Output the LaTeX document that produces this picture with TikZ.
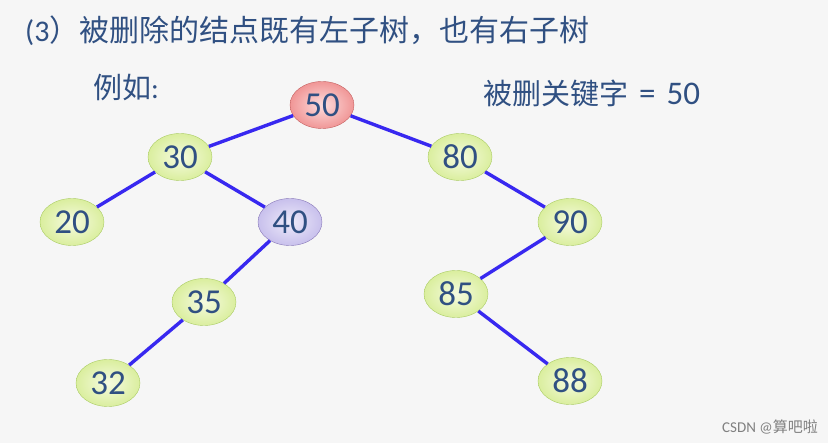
\documentclass[tikz,border=0pt]{standalone}
\usepackage{fontspec}
\setmainfont{Carlito}
\newfontfamily\cjk{Noto Sans CJK SC}
\usetikzlibrary{shapes,calc}
\definecolor{textblue}{RGB}{48,80,130}
\definecolor{edgeblue}{RGB}{56,40,240}
\definecolor{bg}{RGB}{246,246,246}
\definecolor{keyin}{RGB}{246,251,224}
\definecolor{keyout}{RGB}{218,238,158}
\definecolor{keyline}{RGB}{170,204,100}
\definecolor{delin}{RGB}{253,222,222}
\definecolor{delout}{RGB}{240,150,150}
\definecolor{delline}{RGB}{196,96,96}
\definecolor{sucin}{RGB}{238,235,250}
\definecolor{sucout}{RGB}{200,192,236}
\definecolor{sucline}{RGB}{136,120,184}
\tikzstyle{key}=[ellipse,
                 draw=keyline,
                 inner color=keyin,
                 outer color=keyout,
                 minimum width=64pt,
                 minimum height=47pt,
                 inner sep=0pt,
                 text=textblue,
                 font=\fontsize{35}{36}\selectfont]
\tikzstyle{deleted}=[key,draw=delline,inner color=delin,outer color=delout]
\tikzstyle{succ}=[key,draw=sucline,inner color=sucin,outer color=sucout]
\tikzstyle{link}=[draw=edgeblue,line width=3.4pt]
\tikzstyle{caption}=[text=textblue,inner sep=0pt,font=\fontsize{29}{31}\selectfont]

\begin{document}
\begin{tikzpicture}[x=1pt,y=-1pt]
    \fill[bg] (0,0) rectangle (828,443);
    \useasboundingbox (0,0) rectangle (828,443);
    % texts
    \node[caption,anchor=west,font=\fontsize{30}{31}\selectfont] (title) at (25,31) {(3{\cjk）被删除的结点既有左子树，也有右子树}};
    \node[caption,anchor=west] (eg) at (93,88) {{\cjk 例如}:};
    \node[caption,anchor=west] (delkey) at (483,93) {{\cjk 被删关键字}\hspace{11pt}{\fontsize{33}{34}\selectfont =\hspace{11pt}50}};
    \node[anchor=east,text=gray,inner sep=0pt,font=\fontsize{15}{16}\selectfont] (mark) at (818,427) {CSDN @{\cjk 算吧啦}};
    % tree
    \node[deleted] (n50) at (322,105) {50};
    \node[key] (n30) at (180,157) {30};
    \node[key] (n80) at (460,157) {80};
    \node[key] (n20) at (72,222) {20};
    \node[succ] (n40) at (290,222) {40};
    \node[key] (n90) at (570,222) {90};
    \node[key] (n35) at (204,302) {35};
    \node[key] (n85) at (456,294) {85};
    \node[key] (n32) at (108,383) {32};
    \node[key] (n88) at (570,381) {88};
    \path[link] (n50) -- (n30)
                (n50) -- (n80)
                (n30) -- (n20)
                (n30) -- (n40)
                (n80) -- (n90)
                (n40) -- (n35)
                (n90) -- (n85)
                (n35) -- (n32)
                (n85) -- (n88);
\end{tikzpicture}
\end{document}
